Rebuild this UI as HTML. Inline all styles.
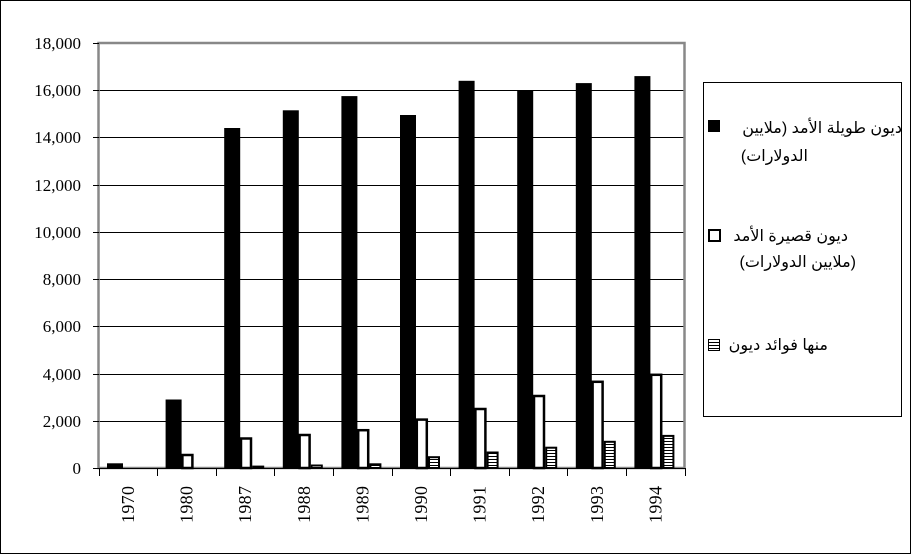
<!DOCTYPE html>
<html><head><meta charset="utf-8"><style>body{margin:0;background:#fff}</style></head><body>
<svg width="912" height="555" xmlns="http://www.w3.org/2000/svg" font-family="Liberation Serif, serif">
<defs><pattern id="h" width="6" height="3" patternUnits="userSpaceOnUse"><rect width="6" height="3" fill="#fff"/><rect y="0" width="6" height="1" fill="#000"/></pattern></defs>
<rect x="0.5" y="0.5" width="910" height="553" fill="#fff" stroke="#000"/>
<g stroke="#000" stroke-width="1">
<line x1="99" y1="90.5" x2="685" y2="90.5"/><line x1="99" y1="137.5" x2="685" y2="137.5"/>
<line x1="99" y1="185.5" x2="685" y2="185.5"/><line x1="99" y1="232.5" x2="685" y2="232.5"/>
<line x1="99" y1="279.5" x2="685" y2="279.5"/><line x1="99" y1="326.5" x2="685" y2="326.5"/>
<line x1="99" y1="374.5" x2="685" y2="374.5"/><line x1="99" y1="421.5" x2="685" y2="421.5"/>
</g>
<rect x="98.5" y="43" width="586" height="425" fill="none" stroke="#888" stroke-width="2.5"/>
<g fill="#000">
<rect x="107" y="463.3" width="16" height="4.7"/>
<rect x="165.6" y="399.5" width="16" height="68.5"/>
<rect x="224.2" y="128" width="16" height="340"/>
<rect x="282.8" y="110.3" width="16" height="357.7"/>
<rect x="341.4" y="96.1" width="16" height="371.9"/>
<rect x="400" y="115" width="16" height="353"/>
<rect x="458.6" y="80.8" width="16" height="387.2"/>
<rect x="517.2" y="90.2" width="16" height="377.8"/>
<rect x="575.8" y="83.1" width="16" height="384.9"/>
<rect x="634.4" y="76.1" width="16" height="391.9"/>
</g>
<g fill="#fff" stroke="#000" stroke-width="2.5">
<rect x="182.4" y="455" width="10" height="13"/>
<rect x="241" y="438.5" width="10" height="29.5"/>
<rect x="299.6" y="435" width="10" height="33"/>
<rect x="358.2" y="430.2" width="10" height="37.8"/>
<rect x="416.8" y="419.6" width="10" height="48.4"/>
<rect x="475.4" y="409" width="10" height="59"/>
<rect x="534" y="396" width="10" height="72"/>
<rect x="592.6" y="381.8" width="10" height="86.2"/>
<rect x="651.2" y="374.8" width="10" height="93.2"/>
</g>
<g fill="url(#h)" stroke="#000" stroke-width="2">
<rect x="253.2" y="466.6" width="10" height="1.4"/>
<rect x="311.8" y="465.5" width="10" height="2.5"/>
<rect x="370.4" y="464.3" width="10" height="3.7"/>
<rect x="429" y="457.2" width="10" height="10.8"/>
<rect x="487.6" y="452.5" width="10" height="15.5"/>
<rect x="546.2" y="447.7" width="10" height="20.3"/>
<rect x="604.8" y="441.8" width="10" height="26.2"/>
<rect x="663.4" y="435.9" width="10" height="32.1"/>
</g>
<line x1="93" y1="468.5" x2="686" y2="468.5" stroke="#000"/>
<g stroke="#000">
<line x1="93" y1="43.5" x2="99" y2="43.5"/><line x1="93" y1="90.5" x2="99" y2="90.5"/><line x1="93" y1="137.5" x2="99" y2="137.5"/><line x1="93" y1="185.5" x2="99" y2="185.5"/><line x1="93" y1="232.5" x2="99" y2="232.5"/><line x1="93" y1="279.5" x2="99" y2="279.5"/><line x1="93" y1="326.5" x2="99" y2="326.5"/><line x1="93" y1="374.5" x2="99" y2="374.5"/><line x1="93" y1="421.5" x2="99" y2="421.5"/>
<line x1="99.5" y1="468" x2="99.5" y2="476"/><line x1="157.5" y1="468" x2="157.5" y2="476"/><line x1="216.5" y1="468" x2="216.5" y2="476"/><line x1="274.5" y1="468" x2="274.5" y2="476"/><line x1="333.5" y1="468" x2="333.5" y2="476"/><line x1="392.5" y1="468" x2="392.5" y2="476"/><line x1="450.5" y1="468" x2="450.5" y2="476"/><line x1="509.5" y1="468" x2="509.5" y2="476"/><line x1="567.5" y1="468" x2="567.5" y2="476"/><line x1="626.5" y1="468" x2="626.5" y2="476"/><line x1="685.5" y1="468" x2="685.5" y2="476"/>
</g>
<g font-size="17" text-anchor="end">
<text x="81" y="49">18,000</text><text x="81" y="96">16,000</text><text x="81" y="143">14,000</text><text x="81" y="191">12,000</text><text x="81" y="238">10,000</text><text x="81" y="285">8,000</text><text x="81" y="332">6,000</text><text x="81" y="380">4,000</text><text x="81" y="427">2,000</text><text x="81" y="474">0</text>
</g>
<g font-size="18" textLength="37">
<text transform="translate(134,523) rotate(-90)" textLength="37">1970</text>
<text transform="translate(192.6,523) rotate(-90)" textLength="37">1980</text>
<text transform="translate(251.2,523) rotate(-90)" textLength="37">1987</text>
<text transform="translate(309.8,523) rotate(-90)" textLength="37">1988</text>
<text transform="translate(368.4,523) rotate(-90)" textLength="37">1989</text>
<text transform="translate(427,523) rotate(-90)" textLength="37">1990</text>
<text transform="translate(485.6,523) rotate(-90)" textLength="37">1991</text>
<text transform="translate(544.2,523) rotate(-90)" textLength="37">1992</text>
<text transform="translate(602.8,523) rotate(-90)" textLength="37">1993</text>
<text transform="translate(661.4,523) rotate(-90)" textLength="37">1994</text>
</g>
<rect x="703.5" y="82.5" width="198" height="334" fill="#fff" stroke="#000"/>
<rect x="708" y="120" width="12" height="12" fill="#000"/>
<rect x="709" y="230" width="11" height="11" fill="#fff" stroke="#000" stroke-width="2"/>
<rect x="708.5" y="339.5" width="11" height="11" fill="url(#h)" stroke="#000"/>
<g font-family="Liberation Sans, DejaVu Sans, sans-serif" font-size="16" direction="rtl">
<text x="902" y="133" text-anchor="start">ديون طويلة الأمد (ملايين</text>
<text x="808" y="161" text-anchor="start">الدولارات)</text>
<text x="848" y="241" text-anchor="start">ديون قصيرة الأمد</text>
<text x="856" y="267" text-anchor="start">(ملايين الدولارات)</text>
<text x="828" y="350" text-anchor="start">منها فوائد ديون</text>
</g>
</svg>
</body></html>
